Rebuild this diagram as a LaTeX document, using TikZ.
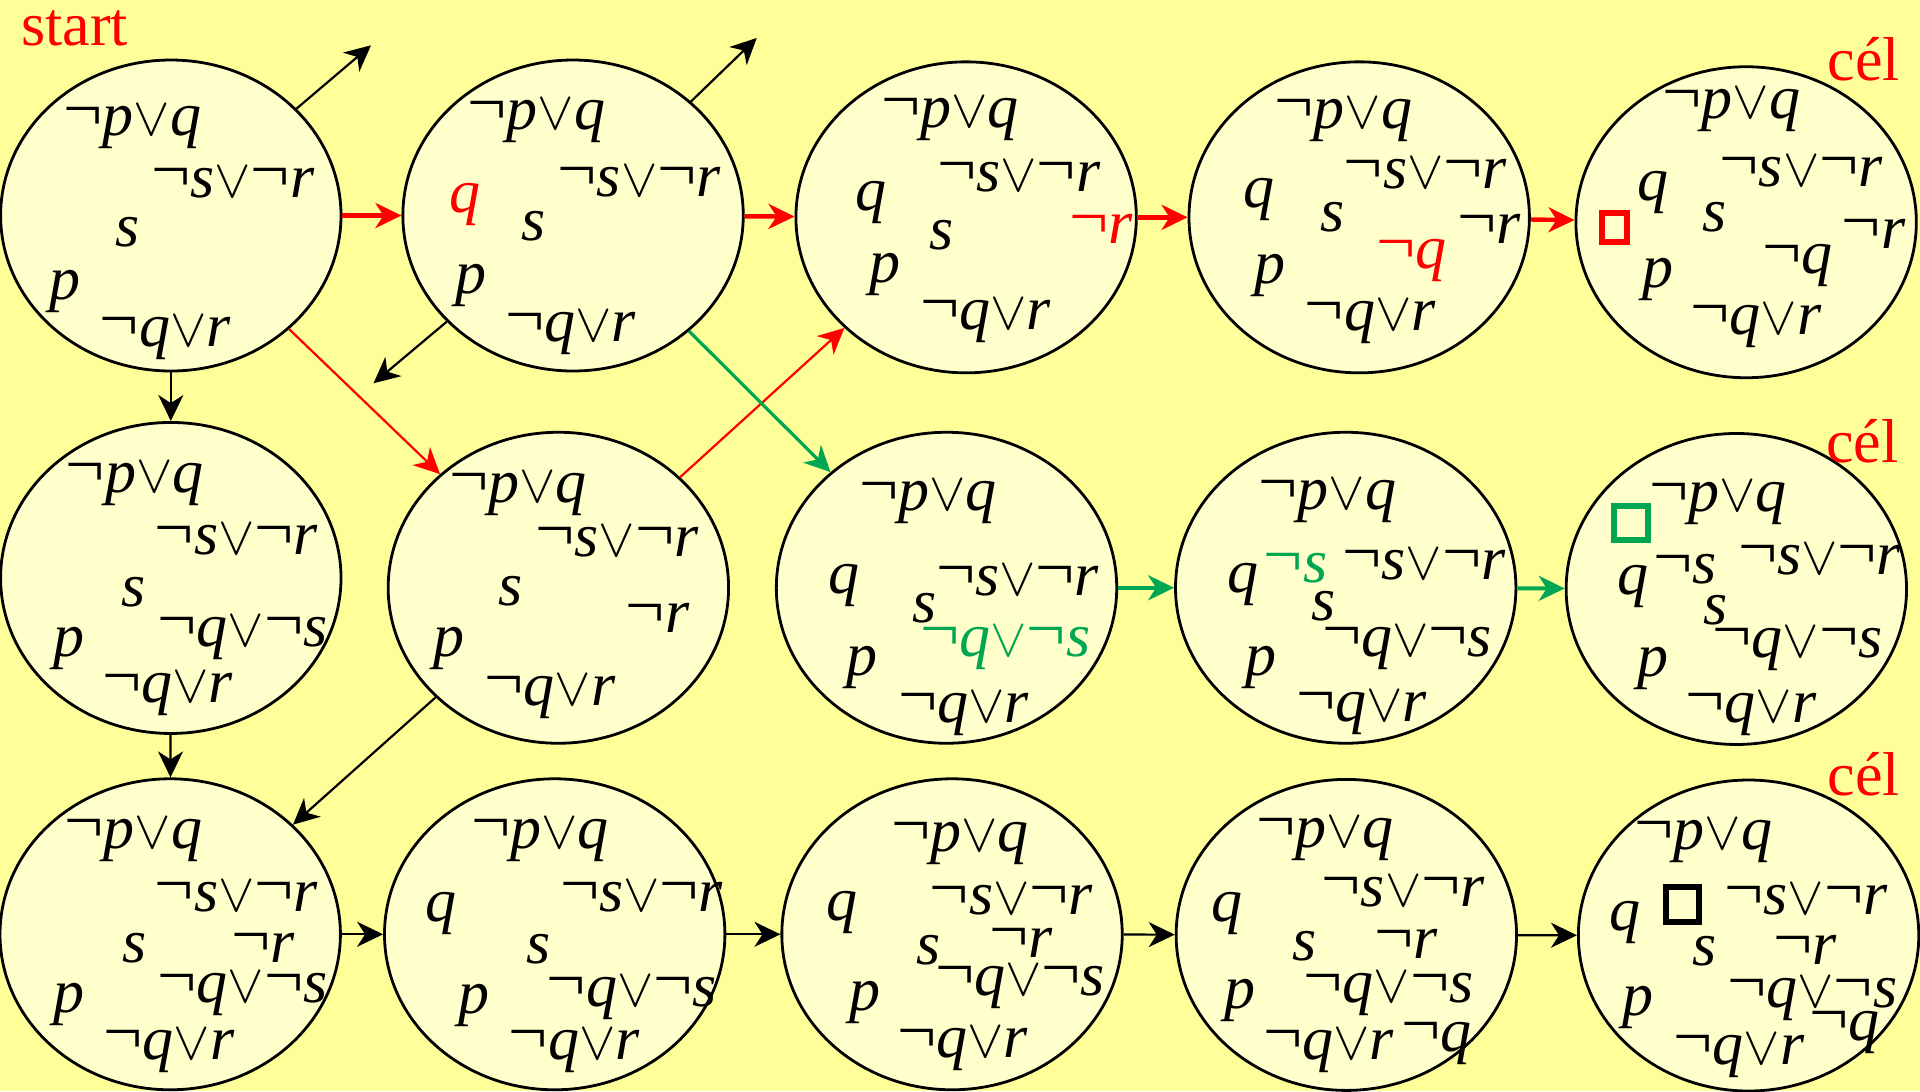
\RequirePackage{fix-cm}
\documentclass[tikz,border=0pt]{standalone}
\usepackage{graphicx}
\usepackage{fontspec}
\setmainfont{Liberation Serif}
\usetikzlibrary{arrows.meta,shapes.geometric}
\definecolor{bg}{RGB}{255,255,153}
\definecolor{efill}{RGB}{255,255,204}
\definecolor{myred}{RGB}{255,0,0}
\definecolor{mygreen}{RGB}{0,166,81}
\newcommand\myneg{\raisebox{0.09em}{\scalebox{1.12}[1.05]{\upshape ¬}}}
\newcommand\myor{\scalebox{0.88}{$\vee$}}
\newcommand\fA{\myneg p\myor q}
\newcommand\fB{\myneg s\myor\myneg r}
\newcommand\fC{\myneg q\myor r}
\newcommand\fD{\myneg q\myor\myneg s}
\begin{document}
\begin{tikzpicture}[x=0.61224pt,y=-0.61224pt,
  ell/.style={ellipse,draw=black,line width=1.4pt,fill=efill,inner sep=0pt,minimum width=170.2pt,minimum height=155.5pt},
  fm/.style={inner sep=0pt,font=\fontsize{31}{31}\selectfont\itshape},
  lab/.style={inner sep=0pt,text=myred,font=\fontsize{31}{31}\selectfont},
  tipA/.style={-{Stealth[length=13pt,width=12.5pt,inset=4pt]}},
  blk/.style={tipA,draw=black,line width=1.1pt},
  redT/.style={tipA,draw=myred,line width=2.2pt},
  redt/.style={tipA,draw=myred,line width=1.1pt},
  grnT/.style={tipA,draw=mygreen,line width=2pt},
  grnt/.style={tipA,draw=mygreen,line width=1.6pt},
  sq/.style={draw,line width=3pt,inner sep=0pt}]
\path[use as bounding box,fill=bg] (0,0) rectangle (1568,891);
% ellipses
\node[ell] (E1) at (139.5,176) {};
\node[ell] (E2) at (468,176) {};
\node[ell] (E3) at (789,177.5) {};
\node[ell] (E4) at (1110,177.5) {};
\node[ell] (E5) at (1426,181.5) {};
\node[ell] (F1) at (139.5,472) {};
\node[ell] (F2) at (456,480) {};
\node[ell] (F3) at (773,480) {};
\node[ell] (F4) at (1099,480) {};
\node[ell] (F5) at (1418,481) {};
\node[ell] (G1) at (139,763) {};
\node[ell] (G2) at (453,763) {};
\node[ell] (G3) at (777.5,763) {};
\node[ell] (G4) at (1099.5,763.5) {};
\node[ell] (G5) at (1428,764) {};
% labels
\node[lab] (start) at (61,23) {start};
\node[lab] (cel1) at (1522,48) {cél};
\node[lab] (cel2) at (1521,360) {cél};
\node[lab] (cel3) at (1522,632) {cél};
% E1
\node[fm] (e1a) at (108,104) {\fA};
\node[fm] (e1b) at (190,149) {\fB};
\node[fm] (e1c) at (104,190) {s};
\node[fm] (e1d) at (53,238) {p};
\node[fm] (e1e) at (135,276) {\fC};
% E2
\node[fm] (e2a) at (438,99) {\fA};
\node[fm] (e2b) at (522,148) {\fB};
\node[fm,text=myred] (e2c) at (380,167) {q};
\node[fm] (e2d) at (436,185) {s};
\node[fm] (e2e) at (385,233) {p};
\node[fm] (e2f) at (466,272) {\fC};
% E3
\node[fm] (e3a) at (776,97) {\fA};
\node[fm] (e3b) at (832,144) {\fB};
\node[fm] (e3c) at (711,165) {q};
\node[fm] (e3d) at (769,192) {s};
\node[fm,text=myred] (e3e) at (899,187) {\myneg r};
\node[fm] (e3f) at (723,224) {p};
\node[fm] (e3g) at (805,262) {\fC};
% E4
\node[fm] (e4a) at (1097,98) {\fA};
\node[fm] (e4b) at (1164,142) {\fB};
\node[fm] (e4c) at (1028,163) {q};
\node[fm] (e4d) at (1088,177) {s};
\node[fm] (e4e) at (1216,187) {\myneg r};
\node[fm,text=myred] (e4f) at (1153,213) {\myneg q};
\node[fm] (e4g) at (1037,225) {p};
\node[fm] (e4h) at (1119,263) {\fC};
% E5
\node[fm] (e5a) at (1414,90) {\fA};
\node[fm] (e5b) at (1471,140) {\fB};
\node[fm] (e5c) at (1350,157) {q};
\node[fm] (e5d) at (1400,177) {s};
\node[fm] (e5e) at (1530,191) {\myneg r};
\node[fm] (e5f) at (1468,217) {\myneg q};
\node[fm] (e5g) at (1354,228) {p};
\node[fm] (e5h) at (1434,266) {\fC};
\node[sq,draw=myred,minimum width=12.5pt,minimum height=14.5pt] (sqr) at (1318.5,186) {};
% F1
\node[fm] (f1a) at (110,395) {\fA};
\node[fm] (f1b) at (193,441) {\fB};
\node[fm] (f1c) at (109,484) {s};
\node[fm] (f1d) at (198,521) {\fD};
\node[fm] (f1e) at (56,530) {p};
\node[fm] (f1f) at (137,567) {\fC};
% F2
\node[fm] (f2a) at (423,403) {\fA};
\node[fm] (f2b) at (504,442) {\fB};
\node[fm] (f2c) at (417,483) {s};
\node[fm] (f2d) at (537,505) {\myneg r};
\node[fm] (f2e) at (367,530) {p};
\node[fm] (f2f) at (449,569) {\fC};
% F3
\node[fm] (f3a) at (758,410) {\fA};
\node[fm] (f3b) at (689,478) {q};
\node[fm] (f3c) at (831,474) {\fB};
\node[fm] (f3d) at (755,497) {s};
\node[fm,text=mygreen] (f3e) at (821,529) {\fD};
\node[fm] (f3f) at (704,545) {p};
\node[fm] (f3g) at (787,583) {\fC};
% F4
\node[fm] (f4a) at (1084,409) {\fA};
\node[fm] (f4b) at (1015,477) {q};
\node[fm,text=mygreen] (f4c) at (1058,464) {\myneg s};
\node[fm] (f4d) at (1163,461) {\fB};
\node[fm] (f4e) at (1081,495) {s};
\node[fm] (f4f) at (1149,529) {\fD};
\node[fm] (f4g) at (1030,545) {p};
\node[fm] (f4h) at (1112,582) {\fC};
% F5
\node[sq,draw=mygreen,minimum width=17pt,minimum height=17pt] (sqg) at (1332,427) {};
\node[fm] (f5a) at (1403,411) {\fA};
\node[fm] (f5b) at (1334,479) {q};
\node[fm] (f5c) at (1376,465) {\myneg s};
\node[fm] (f5d) at (1486,457) {\fB};
\node[fm] (f5e) at (1401,498) {s};
\node[fm] (f5f) at (1468,530) {\fD};
\node[fm] (f5g) at (1350,546) {p};
\node[fm] (f5h) at (1430,583) {\fC};
% G1
\node[fm] (g1a) at (109,686) {\fA};
\node[fm] (g1b) at (193,732) {\fB};
\node[fm] (g1c) at (110,774) {s};
\node[fm] (g1d) at (215,774) {\myneg r};
\node[fm] (g1e) at (198,812) {\fD};
\node[fm] (g1f) at (56,820) {p};
\node[fm] (g1g) at (138,858) {\fC};
% G2
\node[fm] (g2a) at (441,686) {\fA};
\node[fm] (g2b) at (360,746) {q};
\node[fm] (g2c) at (524,732) {\fB};
\node[fm] (g2d) at (440,775) {s};
\node[fm] (g2e) at (516,815) {\fD};
\node[fm] (g2f) at (387,821) {p};
\node[fm] (g2g) at (469,858) {\fC};
% G3
\node[fm] (g3a) at (784,688) {\fA};
\node[fm] (g3b) at (688,745) {q};
\node[fm] (g3c) at (826,735) {\fB};
\node[fm] (g3d) at (758,776) {s};
\node[fm] (g3e) at (834,770) {\myneg r};
\node[fm] (g3f) at (833,806) {\fD};
\node[fm] (g3g) at (706,819) {p};
\node[fm] (g3h) at (786,857) {\fC};
% G4
\node[fm] (g4a) at (1082,685) {\fA};
\node[fm] (g4b) at (1002,746) {q};
\node[fm] (g4c) at (1146,728) {\fB};
\node[fm] (g4d) at (1065,773) {s};
\node[fm] (g4e) at (1148,771) {\myneg r};
\node[fm] (g4f) at (1134,812) {\fD};
\node[fm] (g4g) at (1013,817) {p};
\node[fm] (g4h) at (1085,858) {\fC};
\node[fm] (g4i) at (1173,852) {\myneg q};
% G5
\node[fm] (g5a) at (1391,687) {\fA};
\node[fm] (g5b) at (1327,753) {q};
\node[sq,draw=black,minimum width=16.5pt,minimum height=17.5pt] (sqb) at (1374,739) {};
\node[fm] (g5c) at (1475,735) {\fB};
\node[fm] (g5d) at (1392,777) {s};
\node[fm] (g5e) at (1474,776) {\myneg r};
\node[fm] (g5f) at (1480,816) {\fD};
\node[fm] (g5g) at (1506,843) {\myneg q};
\node[fm] (g5h) at (1338,823) {p};
\node[fm] (g5i) at (1420,862) {\fC};
% free ends
\coordinate (o1) at (303,37);
\coordinate (o2) at (618,31);
\coordinate (o3) at (305,313);
% arrows
\draw[redT] (E1) -- (E2);
\draw[redT] (E2) -- (E3);
\draw[redT] (E3) -- (E4);
\draw[redT] (E4) -- (E5);
\draw[redt] (E1) -- (F2);
\draw[redt] (F2) -- (E3);
\draw[grnt] (E2) -- (F3);
\draw[grnT] (F3) -- (F4);
\draw[grnT] (F4) -- (F5);
\draw[blk] (E1) -- (o1);
\draw[blk] (E2) -- (o2);
\draw[blk] (E2) -- (o3);
\draw[blk] (E1) -- (F1);
\draw[blk] (F1) -- (G1);
\draw[blk] (F2) -- (G1);
\draw[blk] (G1) -- (G2);
\draw[blk] (G2) -- (G3);
\draw[blk] (G3) -- (G4);
\draw[blk] (G4) -- (G5);
\end{tikzpicture}
\end{document}
